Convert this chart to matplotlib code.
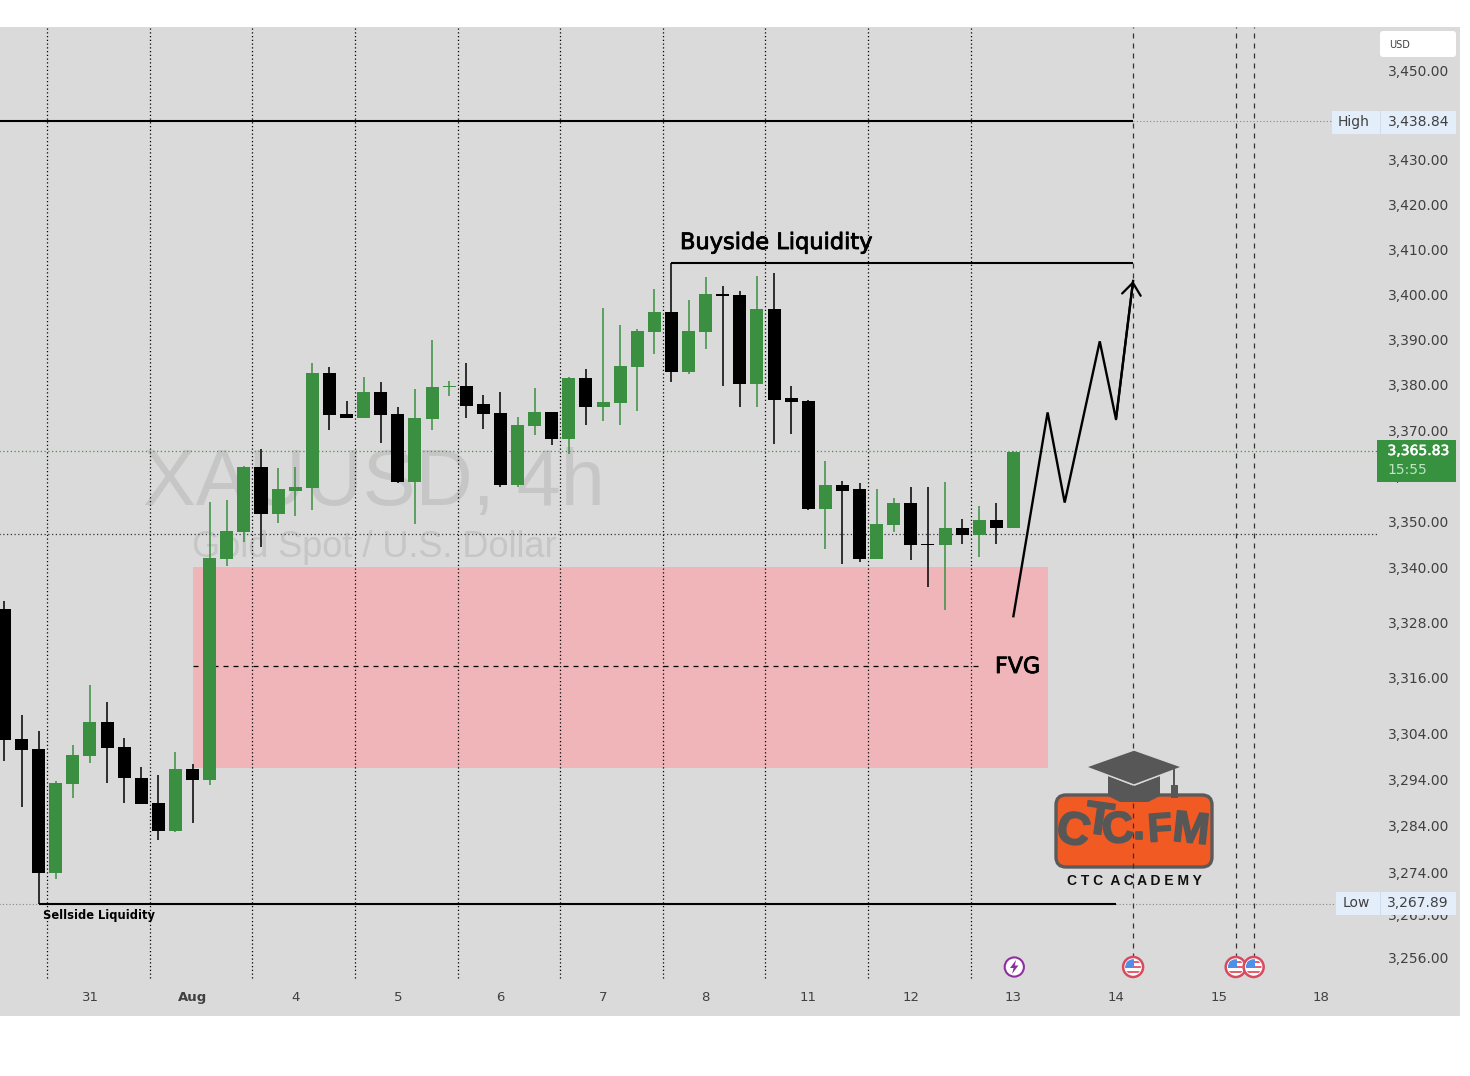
import numpy as np
import matplotlib
matplotlib.use("Agg")
import matplotlib.pyplot as plt
import matplotlib.patheffects as pe
from matplotlib.patches import Circle, Polygon, Rectangle, FancyBboxPatch
from matplotlib.ticker import NullLocator, NullFormatter
from matplotlib.transforms import Affine2D

# 4h candles, bar 0 is the first one of Aug 1
first_bar = -11
opens = [3330.8, 3302.7, 3300.5, 3274.0, 3293.1, 3299.0, 3306.4, 3301.0, 3294.4, 3289.0,
         3282.9, 3296.2, 3293.8, 3341.7, 3347.6, 3362.0, 3351.5, 3356.7, 3357.2, 3382.7,
         3373.5, 3372.6, 3378.5, 3373.5, 3358.7, 3372.4, 3379.6, 3379.8, 3375.7, 3373.7,
         3358.0, 3370.9, 3373.9, 3368.0, 3381.6, 3375.0, 3375.9, 3384.0, 3391.6, 3396.0,
         3382.9, 3391.6, 3400.0, 3399.8, 3380.2, 3396.7, 3377.0, 3376.5, 3352.6, 3358.0,
         3357.0, 3341.7, 3349.1, 3353.9, 3345.0, 3344.8, 3348.5, 3347.0, 3350.2, 3348.5]
highs = [3332.6, 3307.8, 3304.4, 3293.6, 3301.4, 3314.3, 3310.6, 3302.9, 3296.6, 3294.9,
         3299.9, 3297.3, 3354.3, 3354.6, 3362.2, 3365.8, 3361.6, 3362.0, 3384.9, 3384.0,
         3376.5, 3381.8, 3380.7, 3375.0, 3379.1, 3390.0, 3380.9, 3384.7, 3377.8, 3378.3,
         3373.0, 3379.3, 3374.1, 3381.8, 3383.5, 3397.0, 3393.3, 3392.4, 3401.3, 3406.9,
         3398.7, 3403.8, 3401.8, 3400.7, 3404.2, 3404.7, 3379.8, 3376.7, 3363.3, 3358.9,
         3358.3, 3357.0, 3355.2, 3357.6, 3357.4, 3358.7, 3350.4, 3353.3, 3353.9, 3365.5]
lows = [3297.9, 3288.0, 3267.3, 3272.7, 3289.9, 3297.5, 3293.3, 3289.0, 3288.7, 3281.0,
        3282.7, 3284.6, 3292.7, 3340.2, 3345.4, 3344.3, 3349.6, 3351.1, 3352.4, 3370.0,
        3372.6, 3372.6, 3367.1, 3358.3, 3349.3, 3370.0, 3377.6, 3372.6, 3370.2, 3357.4,
        3357.6, 3368.9, 3366.7, 3364.7, 3371.1, 3372.0, 3371.1, 3374.3, 3386.7, 3380.7,
        3382.4, 3388.0, 3379.8, 3375.2, 3375.2, 3366.9, 3369.1, 3352.4, 3343.9, 3340.7,
        3341.1, 3341.7, 3347.6, 3341.5, 3335.6, 3330.6, 3345.0, 3342.2, 3345.0, 3348.5]
closes = [3302.5, 3300.3, 3274.0, 3293.3, 3299.2, 3306.4, 3300.7, 3294.2, 3288.8, 3283.0,
          3296.2, 3293.8, 3342.0, 3347.8, 3362.0, 3351.5, 3357.0, 3357.4, 3382.7, 3373.3,
          3372.6, 3378.5, 3373.3, 3358.7, 3372.6, 3379.6, 3379.8, 3375.4, 3373.5, 3358.0,
          3371.1, 3373.9, 3368.0, 3381.6, 3375.0, 3376.1, 3384.2, 3391.8, 3396.0, 3382.9,
          3391.8, 3400.0, 3399.6, 3380.2, 3396.7, 3376.7, 3376.3, 3352.6, 3358.0, 3356.7,
          3341.7, 3349.3, 3353.9, 3344.8, 3344.8, 3348.5, 3347.0, 3350.2, 3348.5, 3365.3]

price_ticks = [3450, 3440, 3430, 3420, 3410, 3400, 3390, 3380, 3370, 3360, 3350, 3340,
               3328, 3316, 3304, 3294, 3284, 3274, 3265, 3256]
day_bars = [-6, 0, 6, 12, 18, 24, 30, 36, 42, 48, 54, 60, 66]
day_labels = ["31", "Aug", "4", "5", "6", "7", "8", "11", "12", "13", "14", "15", "18"]
session_bars = [-8.5, -2.5, 3.5, 9.5, 15.5, 21.5, 27.5, 33.5, 39.5, 45.5]
event_bars = [55, 61, 62.05]

high_level = 3438.7
low_level = 3267.3
last_level = 3365.5
prev_level = 3347.2
buyside_level = 3406.9
fvg_top = 3340.0
fvg_mid = 3318.4
fvg_bottom = 3296.5
fvg_start = 0
fvg_end = 50

path_bars = [48, 50, 51, 53.05, 54, 55]
path_prices = [3329.3, 3373.9, 3354.1, 3389.6, 3372.4, 3403.0]

bg = "#dadada"
green = "#3a9040"
tick_col = "#404040"
label_bg = "#e4eefa"

fig = plt.figure(figsize=(14.7, 10.76), dpi=100, facecolor="white")
ax = fig.add_axes([0, 1 - 1016 / 1076, 1460 / 1470, 989 / 1076], facecolor=bg)
# image pixels -> display, used for the pieces that are not price data
pix = Affine2D().scale(1, -1).translate(0, 1076)

bars = np.arange(len(opens)) + first_bar
opens = np.array(opens)
closes = np.array(closes)
colors = [green if c >= o else "black" for o, c in zip(opens, closes)]

ax.set_yscale("log")
ax.set_xlim(-192.6 / 17.1, (1460 - 192.6) / 17.1)
ax.set_ylim(3243.5, 3459.9)
ax.yaxis.set_minor_locator(NullLocator())
ax.yaxis.set_minor_formatter(NullFormatter())
ax.yaxis.tick_right()
ax.set_yticks(price_ticks, [f"{p:,.2f}" for p in price_ticks])
ax.set_xticks(day_bars, day_labels)
ax.tick_params(axis="y", length=0, pad=-7.9, labelsize=10, labelcolor=tick_col)
ax.tick_params(axis="x", length=0, pad=-18, labelsize=9.5, labelcolor=tick_col)
for lab in ax.get_yticklabels():
    lab.set_ha("right")
ax.get_xticklabels()[1].set_fontweight("bold")
ax.set_axisbelow(True)
for s in ax.spines.values():
    s.set_visible(False)

# watermark
ax.text(143, 505, "XAUUSD, 4h", transform=pix, family="Liberation Sans", fontsize=57,
        color="#c6c6c6", va="baseline", zorder=0.7)
ax.text(192, 557, "Gold Spot / U.S. Dollar", transform=pix, family="Liberation Sans",
        fontsize=26, color="#c6c6c6", va="baseline", zorder=0.7)

# FVG zone
ax.fill_between([fvg_start, fvg_end], fvg_bottom, fvg_top, color="#f0b5b8", lw=0, zorder=1)
ax.plot([fvg_start, 46], [fvg_mid, fvg_mid], color="black", lw=0.9, ls=(0, (4, 4)), zorder=1.5)

# session and level lines
ax.vlines(session_bars, 3251.6, 3459.9, color="black", lw=0.9, ls=(0, (1, 2)), zorder=1.2)
ax.hlines(last_level, -11.3, (1377 - 192.6) / 17.1, color="#2fa038", lw=0.9, ls=(0, (1, 2)), zorder=1.2)
ax.hlines(prev_level, -11.3, (1377 - 192.6) / 17.1, color="#333333", lw=0.9, ls=(0, (1, 2)), zorder=1.2)
ax.hlines(high_level, 55, (1335 - 192.6) / 17.1, color="#888888", lw=0.8, ls=(0, (1, 2)), zorder=1.2)
ax.hlines(low_level, -11.3, (1340 - 192.6) / 17.1, color="#888888", lw=0.8, ls=(0, (1, 2)), zorder=1.2)

# logo sits under the event lines
ax.add_patch(FancyBboxPatch((1056, 795), 156, 72, boxstyle="round,pad=0,rounding_size=10",
                            transform=pix, fc="#f25a24", ec="#5a5a5a", lw=2.4, zorder=1.3))
ax.vlines(event_bars, 3255.9, 3459.9, color="#333333", lw=0.9, ls=(0, (4, 4)), zorder=1.4)

# candles
ax.vlines(bars, lows, highs, colors=colors, lw=1.1, zorder=3)
ax.bar(bars, closes - opens, bottom=opens, width=13 / 17.1, color=colors, lw=0, zorder=3.1)

# drawn levels and the projected path
ax.hlines(high_level, -11.3, 55, color="black", lw=1.5, zorder=4)
ax.hlines(low_level, -9, 54, color="black", lw=1.5, zorder=4)
ax.hlines(buyside_level, 28, 55, color="black", lw=1.5, zorder=4)
ax.plot(path_bars, path_prices, color="black", lw=1.7, zorder=4.2, solid_joinstyle="miter")
ax.annotate("", xy=(path_bars[-1], path_prices[-1]), xytext=(path_bars[-2], path_prices[-2]),
            arrowprops=dict(arrowstyle="->,head_length=0.36,head_width=0.28", color="black", lw=1.6,
                            mutation_scale=24, shrinkA=0, shrinkB=0), zorder=4.2)

heavy = [pe.withStroke(linewidth=0.6, foreground="black")]
ax.text(680, 243, "Buyside Liquidity", transform=pix, fontsize=16.2, color="black", va="center",
        path_effects=heavy, zorder=5)
ax.text(995, 667, "FVG", transform=pix, fontsize=16, color="black", va="center", path_effects=heavy, zorder=5)
ax.text(43, 915, "Sellside Liquidity", transform=pix, fontsize=8.3, color="black", va="center",
        fontweight="bold", zorder=5)

# logo cap and lettering
cap_col = "#575757"
ax.add_patch(Polygon([(1108, 776), (1134, 786), (1160, 776), (1160, 796), (1148, 802), (1120, 802), (1108, 796)],
                     transform=pix, fc=cap_col, ec="none", zorder=5))
ax.add_patch(Polygon([(1086, 767), (1134, 750), (1182, 767), (1134, 785)], transform=pix, fc=cap_col,
                     ec=bg, lw=1, zorder=5))
ax.add_patch(Rectangle((1173, 769), 2, 20, transform=pix, fc=cap_col, ec="none", zorder=5))
ax.add_patch(Rectangle((1171, 785), 7, 13, transform=pix, fc=cap_col, ec="none", zorder=5))
logo_letters = [("C", 1073, 832, 46, -12), ("T", 1099, 822, 46, -8), ("C", 1118, 831, 44, 6),
                (".", 1139, 827, 44, 0), ("F", 1160, 830, 40, 4), ("M", 1191, 831, 44, -6)]
for ch, lx, ly, size, rot in logo_letters:
    ax.text(lx, ly, ch, transform=pix, fontsize=size * 0.72, fontweight="bold", color=cap_col,
            ha="center", va="center", rotation=rot, family="Liberation Sans",
            path_effects=[pe.withStroke(linewidth=1.2, foreground=cap_col)], zorder=5.1)
ax.text(1134, 881, "C T C  A C A D E M Y", transform=pix, fontsize=10, fontweight="bold", color="#111111",
        ha="center", va="center", family="Liberation Sans", zorder=5.1)

# event markers
for b in event_bars:
    cx = 192.6 + 17.1 * b
    ax.add_patch(Circle((cx, 967), 10, transform=pix, fc="white", ec="#d84a5e", lw=1.8, zorder=6))
    inner = Circle((cx, 967), 7.8, transform=pix)
    for sy in (962, 967, 972):
        st = Rectangle((cx - 8, sy - 1.2), 16, 2.4, transform=pix, fc="#e8606e", ec="none", zorder=6.1)
        ax.add_patch(st)
        st.set_clip_path(inner)
    canton = Rectangle((cx - 8, 959), 9, 9, transform=pix, fc="#4f8fe8", ec="none", zorder=6.2)
    ax.add_patch(canton)
    canton.set_clip_path(inner)
ax.add_patch(Circle((1014.3, 967), 9.6, transform=pix, fc="white", ec="#8e2fa0", lw=1.5, zorder=6))
ax.add_patch(Polygon([(1016, 960), (1010, 968), (1013.6, 968), (1012, 974), (1018.4, 965.5), (1014.8, 965.5)],
                     transform=pix, fc="#8e2fa0", ec="none", zorder=6.1))

# price scale labels
ax.add_patch(FancyBboxPatch((1380, 31), 76, 26, boxstyle="round,pad=0,rounding_size=3", transform=pix,
                            fc="white", ec="none", zorder=6))
ax.text(1389, 45, "USD", transform=pix, fontsize=7, color=tick_col, va="center", zorder=6.1)

for name, value, y0, x0 in [("High", "3,438.84", 111, 1332), ("Low", "3,267.89", 892, 1336)]:
    ax.add_patch(Rectangle((x0, y0), 1456 - x0, 23, transform=pix, fc=label_bg, ec="none", zorder=6))
    ax.plot([1380, 1380], [y0, y0 + 23], transform=pix, color="#cfdcea", lw=0.8, zorder=6.1)
    ax.text((x0 + 1380) / 2 - 2, y0 + 11, name, transform=pix, fontsize=10, color=tick_col, ha="center",
            va="center", zorder=6.2)
    ax.text(1449, y0 + 11, value, transform=pix, fontsize=10, color=tick_col, ha="right", va="center", zorder=6.2)

ax.add_patch(Rectangle((1377, 440), 79, 42, transform=pix, fc="#379240", ec="none", zorder=6))
ax.text(1449, 451, "3,365.83", transform=pix, fontsize=10, color="white", ha="right", va="center",
        path_effects=[pe.withStroke(linewidth=0.4, foreground="white")], zorder=6.2)
ax.text(1387, 470, "15:55", transform=pix, fontsize=10, color="#bfe5c2", ha="left", va="center", zorder=6.2)

fig.savefig("out.png", dpi=100, facecolor="white")
